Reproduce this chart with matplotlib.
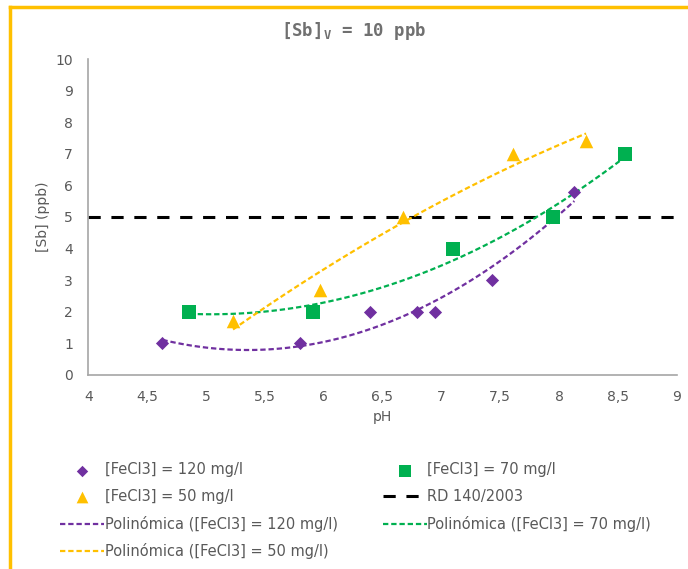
import numpy as np
import matplotlib
matplotlib.use("Agg")
import matplotlib.pyplot as plt
from matplotlib.lines import Line2D

# data
ph_120 = [4.63, 5.80, 6.39, 6.79, 6.95, 7.43, 8.13]
sb_120 = [1.0, 1.0, 2.0, 2.0, 2.0, 3.0, 5.8]
ph_70 = [4.86, 5.91, 7.10, 7.95, 8.56]
sb_70 = [2.0, 2.0, 4.0, 5.0, 7.0]
ph_50 = [5.23, 5.97, 6.67, 7.61, 8.23]
sb_50 = [1.7, 2.7, 5.0, 7.0, 7.4]
rd_limit = 5
x_ticks = [4, 4.5, 5, 5.5, 6, 6.5, 7, 7.5, 8, 8.5, 9]
y_ticks = list(range(0, 11))

purple = "#7030A0"
green = "#00B050"
yellow = "#FFC000"
gray = "#595959"

plt.rcParams["font.family"] = ["DejaVu Sans"]

fig = plt.figure(figsize=(6.88, 5.69), dpi=100)
ax = fig.add_axes([0.1283, 0.341, 0.8553, 0.5553])

# gold frame (top + left)
fig.add_artist(Line2D([0.0152, 1.0], [0.9885, 0.9885], color=yellow, lw=2.5,
                      transform=fig.transFigure))
fig.add_artist(Line2D([0.0152, 0.0152], [0.0, 0.9885], color=yellow, lw=2.5,
                      transform=fig.transFigure))


def trend(x, y):
    # 2nd order polynomial trendline, like Excel's "Polinómica"
    c = np.polyfit(x, y, 2)
    xs = np.linspace(min(x), max(x), 100)
    return xs, np.polyval(c, xs)


dash = (2.4, 1.3)
ax.axhline(rd_limit, color="black", lw=2.2, dashes=(4, 3.5), zorder=2)

xs, ys = trend(ph_120, sb_120)
l120, = ax.plot(xs, ys, color=purple, lw=1.6, dashes=dash)
xs, ys = trend(ph_70, sb_70)
l70, = ax.plot(xs, ys, color=green, lw=1.6, dashes=dash)
xs, ys = trend(ph_50, sb_50)
l50, = ax.plot(xs, ys, color=yellow, lw=1.6, dashes=dash)

s120 = ax.scatter(ph_120, sb_120, marker="D", s=45, color=purple, zorder=3, lw=0)
s70 = ax.scatter(ph_70, sb_70, marker="s", s=110, color=green, zorder=3, lw=0)
s50 = ax.scatter(ph_50, sb_50, marker="^", s=95, color=yellow, zorder=3, lw=0)
rd = Line2D([], [], color="black", lw=2.2, dashes=(4, 3.5))

ax.set_xlim(4, 9)
ax.set_ylim(0, 10)
ax.set_xticks(x_ticks)
ax.set_xticklabels([("%g" % t).replace(".", ",") for t in x_ticks])
ax.set_yticks(y_ticks)
ax.tick_params(length=0, colors=gray, labelsize=10)
ax.tick_params(axis="x", pad=11)
ax.tick_params(axis="y", pad=11)
for side in ["top", "right"]:
    ax.spines[side].set_visible(False)
for side in ["left", "bottom"]:
    ax.spines[side].set_color("#a6a6a6")
    ax.spines[side].set_linewidth(1.2)

ax.set_xlabel("pH", color=gray, fontsize=10, labelpad=4)
ax.set_ylabel("[Sb] (ppb)", color=gray, fontsize=10, labelpad=4)
fig.text(0.5145, 0.9455, r"[Sb]$_{\mathregular{V}}$ = 10 ppb", ha="center",
         va="center", color="#707070", fontsize=12.5, fontweight="bold",
         family="DejaVu Sans Mono")

handles = [s120, s50, l120, l50, s70, rd, l70]
labels = ["[FeCl3] = 120 mg/l", "[FeCl3] = 50 mg/l",
          "Polinómica ([FeCl3] = 120 mg/l)", "Polinómica ([FeCl3] = 50 mg/l)",
          "[FeCl3] = 70 mg/l", "RD 140/2003",
          "Polinómica ([FeCl3] = 70 mg/l)"]
leg = fig.legend(handles, labels, ncol=2, loc="upper left",
                 bbox_to_anchor=(0.0683, 0.2105), frameon=False, fontsize=10.5,
                 handlelength=3.0, handletextpad=0.05, columnspacing=3.1,
                 labelspacing=0.8, labelcolor=gray, scatterpoints=1)
for h in leg.legend_handles[:2] + leg.legend_handles[4:5]:
    h.set_sizes([h.get_sizes()[0] * 0.75])

fig.savefig("out.png", dpi=100, facecolor="white")
